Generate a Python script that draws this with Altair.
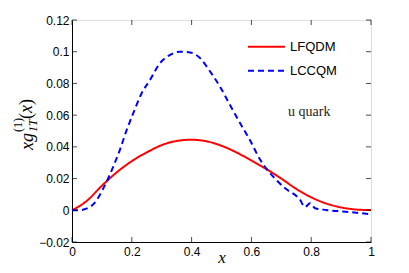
import altair as alt
import pandas as pd

# LFQDM (red solid)
lf_x = [0.0, 0.05, 0.1, 0.15, 0.2, 0.25, 0.3, 0.35, 0.4, 0.45, 0.5, 0.55, 0.6, 0.65, 0.7, 0.75, 0.8, 0.85, 0.9, 0.95, 1.0]
lf_y = [0.0, 0.006, 0.0155, 0.024, 0.031, 0.0365, 0.0411, 0.0437, 0.0445, 0.0435, 0.0407, 0.0365, 0.0314, 0.026,
        0.020, 0.0135, 0.0082, 0.0043, 0.0018, 0.0005, 0.0001]

# LCCQM (blue dashed)
lc_x = [0.0, 0.02, 0.05, 0.075, 0.105, 0.138, 0.16, 0.183, 0.205, 0.233, 0.261, 0.294, 0.328, 0.361, 0.395, 0.428,
        0.462, 0.495, 0.528, 0.562, 0.595, 0.629, 0.679, 0.712, 0.763, 0.779, 0.796, 0.813, 0.85, 0.916, 1.0]
lc_y = [0.0, 0.0, 0.0012, 0.0045, 0.0139, 0.0275, 0.038, 0.0507, 0.0612, 0.0738, 0.0822, 0.0927, 0.098, 0.1, 0.0995,
        0.096, 0.0875, 0.078, 0.0665, 0.055, 0.0443, 0.032, 0.020, 0.014, 0.0065, 0.002, 0.0044, 0.0013, 0.0002,
        -0.0009, -0.0025]

series = ["LFQDM", "LCCQM"]
colors = ["#ff0000", "#0000ff"]
x_ticks = [0, 0.2, 0.4, 0.6, 0.8, 1]
y_ticks = [-0.02, 0, 0.02, 0.04, 0.06, 0.08, 0.1, 0.12]

df = pd.concat([
    pd.DataFrame({"x": lf_x, "y": lf_y, "model": series[0], "order": range(len(lf_x))}),
    pd.DataFrame({"x": lc_x, "y": lc_y, "model": series[1], "order": range(len(lc_x))}),
])

xs = alt.Scale(domain=[0, 1], nice=False)
ys = alt.Scale(domain=[-0.02, 0.12], nice=False)

ax_x = alt.Axis(
    values=x_ticks, format=".1~f", title="x", titleFont="Liberation Serif", titleFontStyle="italic",
    titleFontWeight="normal", titleFontSize=17, titleY=20, titleBaseline="alphabetic",
    labelFont="Liberation Sans", labelFontSize=12, labelColor="#000", tickSize=0,
    labelPadding=4, domainColor="#000", labelFlush=False, labelOverlap=False, grid=False)
ax_y = alt.Axis(
    values=y_ticks, format=".2~f", title=None,
    labelFont="Liberation Sans", labelFontSize=12, labelColor="#000", tickSize=0,
    labelPadding=3, domainColor="#000", labelFlush=False, labelOverlap=False, grid=False)

lines = alt.Chart(df).mark_line(strokeWidth=2, interpolate="monotone").encode(
    x=alt.X("x:Q", scale=xs, axis=ax_x),
    y=alt.Y("y:Q", scale=ys, axis=ax_y),
    color=alt.Color("model:N", scale=alt.Scale(domain=series, range=colors), legend=None),
    strokeDash=alt.StrokeDash("model:N", scale=alt.Scale(domain=series, range=[[1, 0], [6, 4]]),
                              legend=None),
    order="order:Q",
)

# inward ticks (MATLAB style box)
xt = pd.DataFrame({"x": x_ticks})
yt = pd.DataFrame({"y": y_ticks})
tb = alt.Chart(xt).mark_tick(orient="vertical", size=5, thickness=1, color="#000", yOffset=-2.5).encode(
    x=alt.X("x:Q", scale=xs, axis=ax_x), y=alt.YDatum(-0.02, scale=ys, axis=ax_y))
tt = alt.Chart(xt).mark_tick(orient="vertical", size=5, thickness=1, color="#000", yOffset=2.5).encode(
    x=alt.X("x:Q", scale=xs, axis=ax_x), y=alt.YDatum(0.12, scale=ys, axis=ax_y))
tl = alt.Chart(yt).mark_tick(orient="horizontal", size=5, thickness=1, color="#000", xOffset=2.5).encode(
    y=alt.Y("y:Q", scale=ys, axis=ax_y), x=alt.XDatum(0, scale=xs, axis=ax_x))
tr = alt.Chart(yt).mark_tick(orient="horizontal", size=5, thickness=1, color="#000", xOffset=-2.5).encode(
    y=alt.Y("y:Q", scale=ys, axis=ax_y), x=alt.XDatum(1, scale=xs, axis=ax_x))

# legend (drawn by hand, MATLAB style)
leg_red = alt.Chart(pd.DataFrame({"m": [series[0]]})).mark_rule(color=colors[0], strokeWidth=2).encode(
    x=alt.value(176), x2=alt.value(213), y=alt.value(26.7))
leg_blue = alt.Chart(pd.DataFrame({"m": [series[1]]})).mark_rule(color=colors[1], strokeWidth=2,
                                                                 strokeDash=[6, 4]).encode(
    x=alt.value(176), x2=alt.value(213), y=alt.value(50.7))
leg_txt1 = alt.Chart(pd.DataFrame({"t": [series[0]]})).mark_text(
    font="Liberation Sans", fontSize=13, align="left", baseline="middle", color="#000").encode(
    x=alt.value(218), y=alt.value(26.7), text="t:N")
leg_txt2 = alt.Chart(pd.DataFrame({"t": [series[1]]})).mark_text(
    font="Liberation Sans", fontSize=13, align="left", baseline="middle", color="#000").encode(
    x=alt.value(218), y=alt.value(50.7), text="t:N")

label = alt.Chart(pd.DataFrame({"t": ["u quark"]})).mark_text(
    font="Liberation Serif", fontSize=14, align="left", baseline="middle", color="#222").encode(
    x=alt.value(216), y=alt.value(92), text="t:N")

# y-axis title  x g_{1T}^{(1)}(x), rotated
def rtext(t, x, y, size, italic=True):
    return alt.Chart(pd.DataFrame({"t": [t]})).mark_text(
        font="Liberation Serif", fontSize=size, fontStyle="italic" if italic else "normal",
        angle=270, align="left", baseline="alphabetic", color="#000").encode(
        x=alt.value(x), y=alt.value(y), text="t:N")

yt1 = rtext("xg", -39, 130, 18)
yt2 = rtext("1T", -35, 112, 12)
yt3 = rtext("(1)", -50, 112, 12, italic=False)
yt4 = rtext("(", -40, 99, 18, italic=False)
yt5 = rtext("x", -40, 93, 18)
yt6 = rtext(")", -40, 85, 18, italic=False)

chart = alt.layer(lines, tb, tt, tl, tr, leg_red, leg_blue, leg_txt1, leg_txt2, label,
                  yt1, yt2, yt3, yt4, yt5, yt6).properties(
    width=299, height=222,
    autosize=alt.AutoSizeParams(type="none"),
    padding={"left": 64, "top": 12, "right": 30, "bottom": 23},
).configure_view(stroke="#000", strokeWidth=1).configure_axis(labelOverlap=False).configure(background="white")

chart.save("out.html", embed_options={"renderer": "svg", "actions": False})
